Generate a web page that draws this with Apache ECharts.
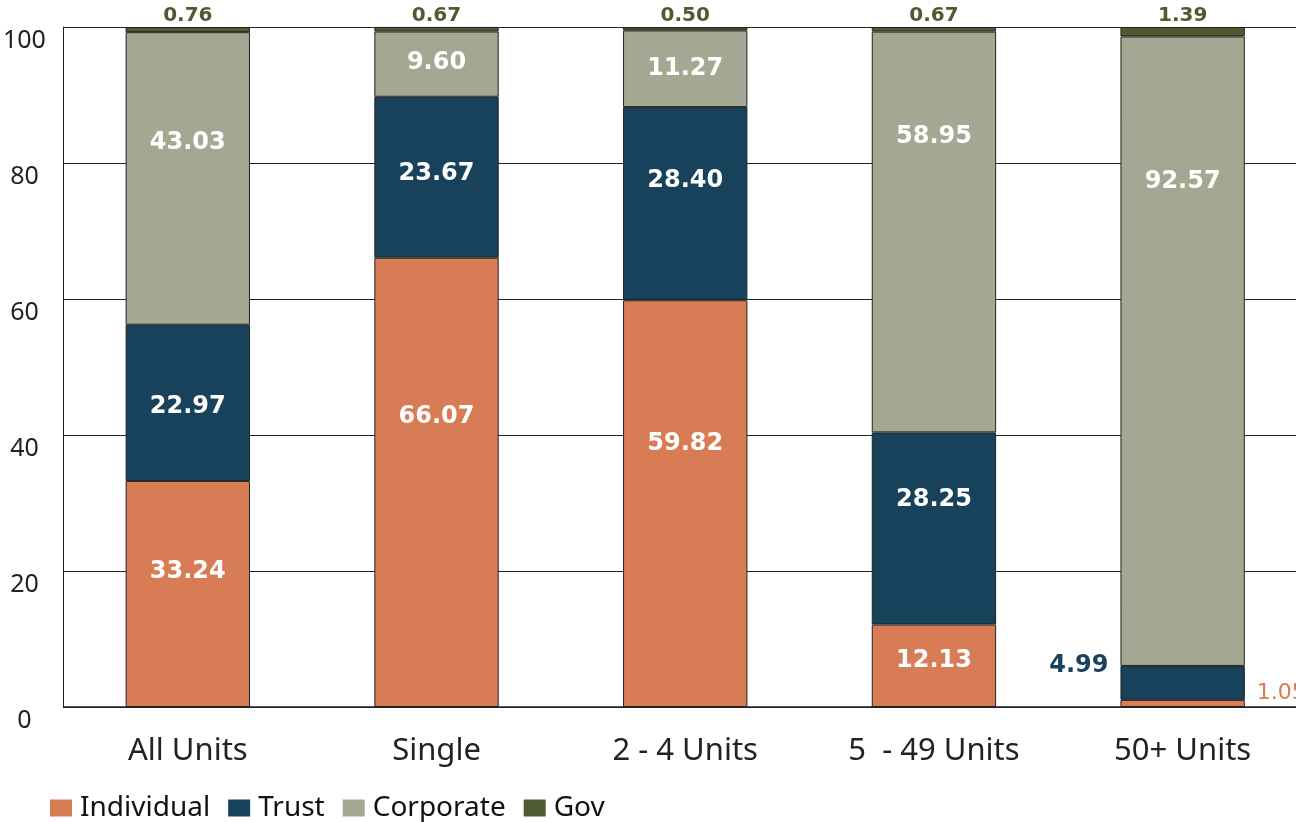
<!DOCTYPE html>
<html><head><meta charset="utf-8">
<script src="https://cdn.jsdelivr.net/npm/echarts@6/dist/echarts.min.js"></script>
<style>html,body{margin:0;padding:0;background:#fff;overflow:hidden}#c{width:1307px;height:822px}</style>
</head><body><div id="c"></div>
<script>
const categories = ['All Units', 'Single', '2 - 4 Units', '5  - 49 Units', '50+ Units'];
const individual = [33.24, 66.07, 59.82, 12.13, 1.05];
const trust = [22.97, 23.67, 28.40, 28.25, 4.99];
const corporate = [43.03, 9.60, 11.27, 58.95, 92.57];
const gov = [0.76, 0.67, 0.50, 0.67, 1.39];
const yTicks = [0, 20, 40, 60, 80, 100];

// label vertical nudges (px) to match the reference placement
const shiftInd = [-22, -66, -60, -5, 0];
const shiftTrust = [4, -3, -23, -29, 0];
const shiftCorp = [-36, -1, 0, -95, -169];

const colors = {Individual:'#D87C56', Trust:'#18425C', Corporate:'#A2A891', Gov:'#4E5B31'};
const labFont = 'DejaVu Sans';
const inner = {show:true, position:'inside', color:'#fff', fontFamily:labFont, fontWeight:'bold', fontSize:24, formatter:p=>p.value.toFixed(2)};

function mk(name, arr, label, shifts, overrides) {
  return {
    name, type:'bar', stack:'s', barWidth:'50%',
    itemStyle:{color:colors[name], borderColor:'#222', borderWidth:1},
    label,
    data: arr.map((v,i)=> {
      if (overrides && overrides[i]) return {value:v, label:overrides[i]};
      if (shifts) return {value:v, label:{offset:[0, shifts[i]]}};
      return v;
    })
  };
}

const chart = echarts.init(document.getElementById('c'));
chart.setOption({
  animation:false,
  grid:{left:63, right:0, top:27, bottom:115},
  legend:{left:45, top:789, itemWidth:22, itemHeight:17, itemGap:18, icon:'rect',
    itemStyle:{borderWidth:0},
    textStyle:{fontFamily:'Noto Sans', fontSize:28, color:'#111', padding:[16,0,0,3]},
    data:['Individual','Trust','Corporate','Gov']},
  xAxis:{type:'category', data:categories,
    axisLine:{lineStyle:{color:'#222', width:1.5}},
    axisTick:{inside:true, length:16, lineStyle:{color:'#222'}},
    axisLabel:{fontFamily:'Noto Sans', fontSize:31, color:'#222', margin:29}},
  yAxis:{type:'value', min:0, max:100, interval:20,
    axisLine:{show:true, lineStyle:{color:'#222'}},
    axisTick:{show:false},
    splitLine:{lineStyle:{color:'#222', width:1}},
    axisLabel:{fontFamily:'Noto Sans', fontSize:25, color:'#222', align:'center', margin:39, verticalAlign:'top', padding:[1,0,0,0],
      formatter:v=> yTicks.includes(v) ? String(v) : ''}},
  series:[
    mk('Individual', individual, inner, shiftInd, {4:{position:'right', distance:12, offset:[0,-10], color:'#D87C56', fontWeight:'normal', fontSize:22}}),
    mk('Trust', trust, inner, shiftTrust, {4:{position:'left', distance:12, offset:[0,-17], color:'#18425C'}}),
    mk('Corporate', corporate, inner, shiftCorp),
    mk('Gov', gov, {show:true, position:'top', distance:1, color:'#4E5B31', fontFamily:labFont, fontWeight:'bold', fontSize:20, formatter:p=>p.value.toFixed(2)})
  ]
});
</script></body></html>
